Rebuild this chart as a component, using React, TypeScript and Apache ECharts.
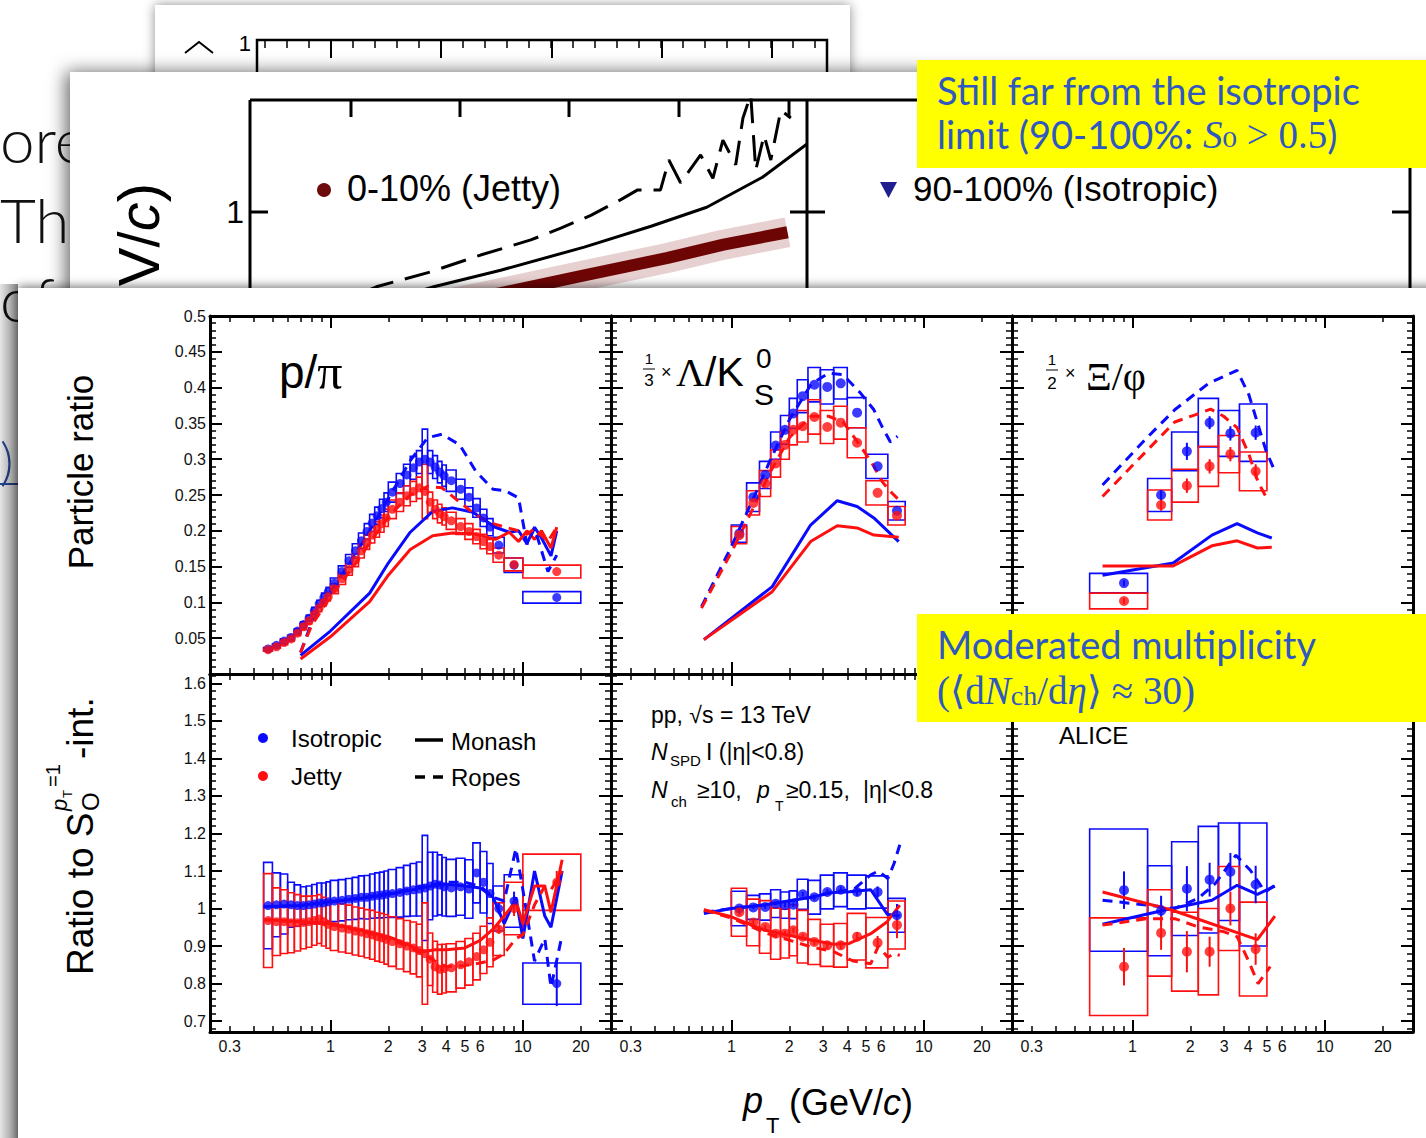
import React, { useEffect, useRef } from "react";
import * as echarts from "echarts";

// ---------------- axes / ticks ----------------
const PT_MIN = 0.237;
const PT_MAX = 28.7;
const X_LABEL_VALUES = [0.3, 1, 2, 3, 4, 5, 6, 10, 20];
const X_LABEL_TEXTS = ["0.3", "1", "2", "3", "4", "5", "6", "10", "20"];
const X_MAJOR_TICKS = [1, 10];
const X_MINOR_TICKS = [0.3, 0.4, 0.5, 0.6, 0.7, 0.8, 0.9, 2, 3, 4, 5, 6, 7, 8, 9, 20];
const TOP_Y_LABELS = [0.05, 0.1, 0.15, 0.2, 0.25, 0.3, 0.35, 0.4, 0.45, 0.5];
const BOT_Y_LABELS = [0.7, 0.8, 0.9, 1, 1.1, 1.2, 1.3, 1.4, 1.5, 1.6];
const TOP_Y_RANGE = [0, 0.5];
const BOT_Y_RANGE = [0.671, 1.625];

// ---------------- p/pi ----------------
const PPI_LO = [0.45, 0.5, 0.55, 0.6, 0.65, 0.7, 0.75, 0.8, 0.85, 0.9, 0.95, 1.0, 1.1, 1.2, 1.3, 1.4, 1.5, 1.6, 1.7, 1.8, 1.9, 2.0, 2.2, 2.4, 2.6, 2.8, 3.0, 3.2, 3.4, 3.6, 3.8, 4.0, 4.5, 5.0, 5.5, 6.0, 6.5, 7.0, 8.0, 10.0];
const PPI_HI = [0.5, 0.55, 0.6, 0.65, 0.7, 0.75, 0.8, 0.85, 0.9, 0.95, 1.0, 1.1, 1.2, 1.3, 1.4, 1.5, 1.6, 1.7, 1.8, 1.9, 2.0, 2.2, 2.4, 2.6, 2.8, 3.0, 3.2, 3.4, 3.6, 3.8, 4.0, 4.5, 5.0, 5.5, 6.0, 6.5, 7.0, 8.0, 10.0, 20.0];
const PPI_PT = [0.475, 0.525, 0.575, 0.625, 0.675, 0.725, 0.775, 0.825, 0.875, 0.925, 0.975, 1.05, 1.15, 1.25, 1.35, 1.45, 1.55, 1.65, 1.75, 1.85, 1.95, 2.1, 2.3, 2.5, 2.7, 2.9, 3.1, 3.3, 3.5, 3.7, 3.9, 4.25, 4.75, 5.25, 5.75, 6.25, 6.75, 7.5, 9.0, 15.0];
const PPI_ISO = [0.035, 0.040, 0.046, 0.051, 0.060, 0.069, 0.078, 0.088, 0.098, 0.107, 0.115, 0.127, 0.143, 0.158, 0.172, 0.186, 0.199, 0.211, 0.221, 0.231, 0.240, 0.254, 0.266, 0.278, 0.288, 0.296, 0.300, 0.296, 0.289, 0.282, 0.277, 0.270, 0.258, 0.247, 0.232, 0.218, 0.205, 0.180, 0.152, 0.107];
const PPI_JET = [0.034, 0.038, 0.044, 0.049, 0.057, 0.066, 0.074, 0.083, 0.092, 0.100, 0.108, 0.119, 0.133, 0.146, 0.159, 0.172, 0.184, 0.194, 0.202, 0.210, 0.218, 0.230, 0.240, 0.249, 0.255, 0.260, 0.255, 0.240, 0.230, 0.224, 0.220, 0.214, 0.206, 0.199, 0.192, 0.185, 0.178, 0.166, 0.153, 0.143];
const PPI_ISO_SYS = [0.002, 0.002, 0.003, 0.003, 0.003, 0.004, 0.004, 0.005, 0.005, 0.006, 0.006, 0.007, 0.008, 0.009, 0.010, 0.011, 0.011, 0.012, 0.012, 0.013, 0.013, 0.014, 0.014, 0.015, 0.016, 0.016, 0.042, 0.016, 0.016, 0.015, 0.015, 0.015, 0.014, 0.013, 0.013, 0.012, 0.012, 0.011, 0.010, 0.008];
const PPI_JET_SYS = [0.002, 0.002, 0.003, 0.003, 0.003, 0.004, 0.004, 0.005, 0.005, 0.005, 0.006, 0.007, 0.008, 0.008, 0.009, 0.010, 0.010, 0.011, 0.011, 0.012, 0.012, 0.013, 0.013, 0.014, 0.014, 0.015, 0.038, 0.014, 0.013, 0.013, 0.012, 0.012, 0.011, 0.011, 0.010, 0.010, 0.010, 0.010, 0.009, 0.009];
const PPI_ISO_R = [1.008, 1.010, 1.012, 1.010, 1.008, 1.008, 1.010, 1.012, 1.015, 1.015, 1.018, 1.020, 1.022, 1.025, 1.027, 1.030, 1.030, 1.033, 1.035, 1.036, 1.038, 1.040, 1.043, 1.047, 1.050, 1.052, 1.055, 1.060, 1.065, 1.063, 1.058, 1.055, 1.058, 1.052, 1.095, 1.070, 1.040, 1.000, 1.020, 0.800];
const PPI_ISO_R_SYS = [0.115, 0.085, 0.080, 0.060, 0.055, 0.050, 0.050, 0.052, 0.053, 0.053, 0.053, 0.055, 0.055, 0.055, 0.056, 0.057, 0.058, 0.059, 0.060, 0.061, 0.062, 0.064, 0.066, 0.068, 0.070, 0.072, 0.140, 0.090, 0.085, 0.080, 0.078, 0.076, 0.076, 0.078, 0.080, 0.082, 0.080, 0.060, 0.070, 0.055];
const PPI_ISO_R_STAT = [0, 0, 0, 0, 0, 0, 0, 0, 0, 0, 0, 0, 0, 0, 0, 0, 0, 0, 0, 0, 0, 0, 0, 0, 0, 0, 0, 0, 0, 0, 0, 0, 0, 0, 0, 0, 0, 0.015, 0.025, 0.060];
const PPI_JET_R = [0.968, 0.965, 0.965, 0.962, 0.962, 0.963, 0.965, 0.968, 0.972, 0.965, 0.958, 0.952, 0.948, 0.945, 0.940, 0.937, 0.933, 0.930, 0.925, 0.922, 0.918, 0.912, 0.906, 0.900, 0.895, 0.888, 0.880, 0.865, 0.845, 0.838, 0.840, 0.842, 0.850, 0.858, 0.872, 0.890, 0.910, 0.945, 1.000, 1.070];
const PPI_JET_R_SYS = [0.125, 0.090, 0.085, 0.080, 0.075, 0.070, 0.068, 0.066, 0.065, 0.065, 0.064, 0.064, 0.064, 0.064, 0.064, 0.064, 0.064, 0.065, 0.065, 0.065, 0.066, 0.066, 0.067, 0.068, 0.069, 0.070, 0.135, 0.070, 0.068, 0.066, 0.065, 0.064, 0.062, 0.062, 0.062, 0.063, 0.065, 0.070, 0.070, 0.075];
const PPI_JET_R_STAT = [0, 0, 0, 0, 0, 0, 0, 0, 0, 0, 0, 0, 0, 0, 0, 0, 0, 0, 0, 0, 0, 0, 0, 0, 0, 0, 0, 0, 0, 0, 0, 0, 0, 0, 0, 0, 0, 0.012, 0.020, 0.030];
const PPI_MONASH_PT = [0.7, 1.0, 1.6, 2.0, 2.6, 3.4, 4.3, 5.5, 7.2, 8.5, 9.5, 10.5, 11.5, 12.5, 14, 15];
const PPI_MONASH_ISO = [0.026, 0.060, 0.113, 0.155, 0.198, 0.227, 0.232, 0.226, 0.205, 0.198, 0.200, 0.182, 0.205, 0.190, 0.165, 0.200];
const PPI_MONASH_JET = [0.021, 0.052, 0.101, 0.138, 0.174, 0.193, 0.197, 0.196, 0.188, 0.198, 0.185, 0.200, 0.188, 0.200, 0.176, 0.205];
const PPI_ROPES_PT = [0.7, 0.8, 1.0, 1.3, 1.6, 2.0, 2.6, 3.2, 3.8, 4.7, 5.7, 7.0, 8.1, 9.5, 10.5, 11.5, 13.5, 15];
const PPI_ROPES_ISO = [0.030, 0.072, 0.115, 0.160, 0.200, 0.245, 0.298, 0.330, 0.335, 0.320, 0.283, 0.258, 0.256, 0.246, 0.181, 0.204, 0.143, 0.166];
const PPI_ROPES_JET = [0.030, 0.068, 0.108, 0.148, 0.183, 0.220, 0.250, 0.262, 0.260, 0.240, 0.222, 0.210, 0.205, 0.200, 0.195, 0.203, 0.185, 0.205];
const PPI_R_PT = [0.45, 0.7, 1.0, 1.5, 2.0, 2.5, 3.0, 3.5, 4.0, 5.0, 6.0, 7.0, 8.0, 9.2, 10, 11.5, 13, 14, 16];
const PPI_RM_ISO = [1.005, 1.008, 1.018, 1.028, 1.038, 1.047, 1.055, 1.062, 1.065, 1.060, 1.055, 1.030, 0.960, 1.030, 0.920, 1.100, 0.980, 0.950, 1.100];
const PPI_RR_ISO = [1.005, 1.008, 1.018, 1.030, 1.040, 1.050, 1.060, 1.065, 1.070, 1.070, 1.060, 1.030, 1.020, 1.160, 1.050, 0.860, 0.920, 0.790, 0.930];
const PPI_RM_JET = [0.970, 0.965, 0.960, 0.940, 0.925, 0.905, 0.885, 0.890, 0.890, 0.895, 0.915, 0.945, 0.980, 1.020, 0.960, 1.060, 1.060, 0.990, 1.130];
const PPI_RR_JET = [0.970, 0.965, 0.958, 0.938, 0.920, 0.900, 0.880, 0.860, 0.845, 0.848, 0.855, 0.862, 0.880, 0.920, 0.930, 1.010, 1.060, 1.050, 1.100];

// ---------------- Lambda/K0S (x 1/3) ----------------
const LK_LO = [1.0, 1.2, 1.4, 1.6, 1.8, 2.0, 2.2, 2.5, 2.9, 3.4, 4.0, 5.0, 6.5];
const LK_HI = [1.2, 1.4, 1.6, 1.8, 2.0, 2.2, 2.5, 2.9, 3.4, 4.0, 5.0, 6.5, 8.0];
const LK_PT = [1.1, 1.3, 1.5, 1.7, 1.9, 2.1, 2.35, 2.7, 3.15, 3.7, 4.5, 5.75, 7.25];
const LK_ISO = [0.196, 0.247, 0.278, 0.319, 0.341, 0.364, 0.388, 0.404, 0.401, 0.406, 0.365, 0.290, 0.228];
const LK_JET = [0.194, 0.239, 0.266, 0.294, 0.320, 0.341, 0.346, 0.359, 0.345, 0.351, 0.323, 0.253, 0.221];
const LK_ISO_SYS = [0.012, 0.020, 0.019, 0.019, 0.020, 0.021, 0.023, 0.024, 0.024, 0.022, 0.021, 0.017, 0.013];
const LK_JET_SYS = [0.012, 0.017, 0.018, 0.019, 0.020, 0.021, 0.022, 0.024, 0.023, 0.023, 0.021, 0.017, 0.013];
const LK_ISO_R = [1.000, 1.003, 1.004, 1.013, 1.009, 1.010, 1.038, 1.030, 1.044, 1.050, 1.044, 1.044, 0.982];
const LK_JET_R = [0.990, 0.963, 0.951, 0.933, 0.933, 0.942, 0.925, 0.911, 0.902, 0.902, 0.925, 0.909, 0.956];
const LK_ISO_R_SYS = [0.046, 0.032, 0.035, 0.037, 0.035, 0.037, 0.040, 0.045, 0.045, 0.045, 0.045, 0.043, 0.045];
const LK_JET_R_SYS = [0.064, 0.062, 0.070, 0.068, 0.065, 0.068, 0.070, 0.060, 0.056, 0.058, 0.062, 0.067, 0.064];
const LK_ISO_R_STAT = [0.006, 0.005, 0.005, 0.005, 0.006, 0.006, 0.006, 0.007, 0.008, 0.009, 0.010, 0.015, 0.030];
const LK_JET_R_STAT = [0.008, 0.006, 0.006, 0.006, 0.007, 0.007, 0.007, 0.008, 0.009, 0.010, 0.012, 0.018, 0.035];
const LK_ROPES_PT = [0.7, 1.0, 1.3, 1.6, 2.0, 2.6, 3.2, 3.8, 4.7, 5.5, 6.1, 6.7, 7.3];
const LK_ROPES_ISO = [0.094, 0.178, 0.245, 0.300, 0.355, 0.405, 0.420, 0.418, 0.392, 0.369, 0.344, 0.324, 0.332];
const LK_ROPES_JET = [0.092, 0.170, 0.232, 0.283, 0.330, 0.360, 0.360, 0.352, 0.318, 0.290, 0.268, 0.255, 0.245];
const LK_MONASH_PT = [0.72, 1.63, 2.58, 3.55, 4.5, 5.5, 7.4];
const LK_MONASH_ISO = [0.048, 0.122, 0.208, 0.242, 0.234, 0.218, 0.185];
const LK_MONASH_JET = [0.048, 0.115, 0.185, 0.207, 0.204, 0.194, 0.191];
const LK_RM_PT = [0.72, 1.0, 1.5, 2.6, 3.4, 4.1, 5.3, 6.45, 7.5];
const LK_RM_ISO = [0.987, 1.000, 1.010, 1.030, 1.043, 1.045, 1.050, 0.985, 0.980];
const LK_RM_JET = [0.997, 0.978, 0.942, 0.916, 0.905, 0.907, 0.933, 0.965, 1.009];
const LK_RR_PT = [0.72, 1.0, 1.5, 2.6, 3.4, 4.3, 5.3, 5.8, 6.5, 7.0, 7.5];
const LK_RR_ISO = [0.990, 1.000, 1.010, 1.030, 1.045, 1.050, 1.090, 1.100, 1.080, 1.120, 1.170];
const LK_RR_JET = [0.996, 0.975, 0.935, 0.898, 0.885, 0.860, 0.853, 0.900, 0.870, 0.880, 0.875];

// ---------------- Xi/phi (x 1/2) ----------------
const XP_LO = [0.6, 1.2, 1.6, 2.2, 2.8, 3.6];
const XP_HI = [1.2, 1.6, 2.2, 2.8, 3.6, 5.0];
const XP_PT = [0.905, 1.41, 1.92, 2.52, 3.23, 4.37];
const XP_ISO = [0.127, 0.250, 0.311, 0.351, 0.336, 0.337];
const XP_JET = [0.102, 0.236, 0.263, 0.290, 0.307, 0.283];
const XP_ISO_SYS = [0.0135, 0.023, 0.027, 0.034, 0.032, 0.040];
const XP_JET_SYS = [0.011, 0.021, 0.023, 0.028, 0.026, 0.027];
const XP_ISO_STAT = [0.004, 0.007, 0.012, 0.009, 0.010, 0.010];
const XP_JET_STAT = [0.004, 0.008, 0.010, 0.010, 0.010, 0.010];
const XP_ISO_R = [1.049, 0.994, 1.053, 1.077, 1.098, 1.064];
const XP_JET_R = [0.845, 0.935, 0.885, 0.885, 1.000, 0.892];
const XP_ISO_R_SYS = [0.163, 0.120, 0.125, 0.142, 0.130, 0.164];
const XP_JET_R_SYS = [0.130, 0.115, 0.105, 0.115, 0.112, 0.125];
const XP_ISO_R_STAT = [0.050, 0.040, 0.060, 0.045, 0.050, 0.050];
const XP_JET_R_STAT = [0.050, 0.045, 0.055, 0.040, 0.045, 0.042];
const XP_ROPES_ISO_PT = [0.70, 1.2, 1.66, 2.49, 3.5, 4.03, 4.93, 5.46];
const XP_ROPES_ISO = [0.264, 0.331, 0.369, 0.406, 0.424, 0.390, 0.313, 0.285];
const XP_ROPES_JET_PT = [0.70, 1.2, 1.66, 2.12, 2.55, 2.98, 3.5, 4.03, 4.5, 5.0];
const XP_ROPES_JET = [0.248, 0.313, 0.352, 0.362, 0.370, 0.360, 0.344, 0.307, 0.268, 0.245];
const XP_MONASH_PT = [0.70, 1.63, 2.59, 3.5, 4.46, 5.3];
const XP_MONASH_ISO = [0.138, 0.155, 0.194, 0.210, 0.197, 0.190];
const XP_MONASH_JET = [0.151, 0.151, 0.179, 0.186, 0.176, 0.177];
const XP_RM_JET_PT = [0.7, 1.6, 4.46, 5.5];
const XP_RM_JET = [1.044, 0.996, 0.917, 0.980];
const XP_RM_ISO_PT = [0.7, 1.6, 2.59, 3.5, 4.46, 5.5];
const XP_RM_ISO = [0.958, 1.000, 1.022, 1.062, 1.038, 1.060];
const XP_RR_ISO_PT = [0.7, 1.2, 1.66, 2.2, 2.7, 3.45, 4.1, 4.9, 5.5];
const XP_RR_ISO = [1.022, 1.009, 1.000, 1.027, 1.067, 1.142, 1.102, 1.044, 1.062];
const XP_RR_JET_PT = [0.7, 1.2, 1.66, 2.2, 3.0, 3.5, 4.0, 4.5, 5.2];
const XP_RR_JET = [0.956, 0.973, 0.973, 0.951, 0.938, 0.925, 0.862, 0.800, 0.845];

// ---------------- background slide (card behind) ----------------
const CARD_SOLID_X = [2.5, 3.3, 4.5, 6.0, 7.2, 8.2, 9.2, 10.0];
const CARD_SOLID_Y = [0.34, 0.40, 0.49, 0.65, 0.84, 1.06, 1.53, 2.3];
const CARD_DASH_X = [1.5, 2.27, 3.24, 4.14, 5.04, 5.58, 6.12, 6.65, 6.96, 7.37, 7.52, 7.73, 8.09, 8.31, 8.49, 8.72, 8.85, 8.99, 9.08, 9.23, 9.35, 9.53, 9.71];
const CARD_DASH_Y = [0.32, 0.40, 0.48, 0.59, 0.71, 0.82, 0.96, 1.16, 1.31, 1.31, 1.89, 1.43, 2.01, 1.51, 2.41, 1.78, 3.16, 4.2, 1.67, 2.56, 1.89, 3.48, 3.16];
const CARD_BAND_X = [2.0, 3.0, 4.5, 6.0, 7.5, 8.5, 9.65];
const CARD_BAND_Y = [0.26, 0.30, 0.37, 0.46, 0.57, 0.67, 0.78];

// ---------------- styling ----------------
const BLUE = "#0a0aff";
const RED = "#ff1010";
const SANS = '"Liberation Sans", Arial, Helvetica, sans-serif';
const SERIF = '"Liberation Serif", "DejaVu Serif", serif';
const SLIDE = 'Lato, "Open Sans", sans-serif';
const YTEXT = "#2f58c0";

const L = (v: number) => Math.log10(v);
const XMIN = L(PT_MIN);
const XMAX = L(PT_MAX);
const COL_LEFT = [210, 611, 1012];
const COL_W = 401;
const ROW_TOP = [316, 674];
const ROW_H = 358;

function steps(a: number, b: number, s: number) {
  const out: number[] = [];
  for (let v = a; v <= b + 1e-9; v += s) out.push(+v.toFixed(4));
  return out;
}
const TOP_MINOR = steps(0.01, 0.49, 0.01).filter((v) => Math.abs(v / 0.05 - Math.round(v / 0.05)) > 1e-6);
const BOT_MINOR = steps(0.68, 1.62, 0.02).filter((v) => Math.abs(v * 10 - Math.round(v * 10)) > 1e-6);

function fmtX(v: number) {
  for (let i = 0; i < X_LABEL_VALUES.length; i++) {
    if (Math.abs(L(X_LABEL_VALUES[i]) - v) < 1e-3) return X_LABEL_TEXTS[i];
  }
  return "";
}
function fmtY(v: number) {
  return String(Math.round(v * 100) / 100);
}

function buildAxes() {
  const xAxis: any[] = [];
  const yAxis: any[] = [];
  const line = { show: true, onZero: false, lineStyle: { color: "#000", width: 3 } };
  const noLine = { show: false, onZero: false };
  const tick = (vals: number[], len: number, w: number) => ({
    show: true, inside: true, length: len, customValues: vals, lineStyle: { color: "#000", width: w },
  });
  for (let g = 0; g < 6; g++) {
    const r = Math.floor(g / 3);
    const c = g % 3;
    const common = { type: "value", gridIndex: g, splitLine: { show: false }, z: 13, silent: true };
    const xc = { ...common, min: XMIN, max: XMAX };
    xAxis.push({
      ...xc, position: "bottom", axisLine: line, axisTick: tick(X_MAJOR_TICKS.map(L), 12, 2),
      axisLabel: r === 1
        ? { show: true, customValues: X_LABEL_VALUES.map(L), formatter: fmtX, fontSize: 16, fontFamily: SANS, color: "#111", margin: 6 }
        : { show: false },
    });
    xAxis.push({ ...xc, position: "bottom", axisLine: noLine, axisTick: tick(X_MINOR_TICKS.map(L), 6, 1.5), axisLabel: { show: false } });
    xAxis.push({ ...xc, position: "top", axisLine: line, axisTick: tick(X_MAJOR_TICKS.map(L), 12, 2), axisLabel: { show: false } });
    xAxis.push({ ...xc, position: "top", axisLine: noLine, axisTick: tick(X_MINOR_TICKS.map(L), 6, 1.5), axisLabel: { show: false } });
    const range = r === 0 ? TOP_Y_RANGE : BOT_Y_RANGE;
    const major = r === 0 ? TOP_Y_LABELS : BOT_Y_LABELS;
    const minor = r === 0 ? TOP_MINOR : BOT_MINOR;
    const yc = { ...common, min: range[0], max: range[1] };
    yAxis.push({
      ...yc, position: "left", axisLine: line, axisTick: tick(major, 12, 2),
      axisLabel: c === 0
        ? { show: true, customValues: major, formatter: fmtY, fontSize: 16, fontFamily: SANS, color: "#111", margin: 4 }
        : { show: false },
    });
    yAxis.push({ ...yc, position: "left", axisLine: noLine, axisTick: tick(minor, 6, 1.5), axisLabel: { show: false } });
    yAxis.push({ ...yc, position: "right", axisLine: line, axisTick: tick(major, 12, 2), axisLabel: { show: false } });
    yAxis.push({ ...yc, position: "right", axisLine: noLine, axisTick: tick(minor, 6, 1.5), axisLabel: { show: false } });
  }
  // background card plot axes (hidden)
  xAxis.push({ type: "value", gridIndex: 6, min: 0, max: 10, show: false });
  yAxis.push({ type: "log", gridIndex: 6, min: 0.1, max: 3.94, show: false });
  return { xAxis, yAxis };
}

function boxSeries(g: number, lo: number[], hi: number[], v: number[], s: number[], color: string) {
  return {
    type: "custom", xAxisIndex: g * 4, yAxisIndex: g * 4, z: 10, silent: true,
    data: lo.map((l, i) => [L(l), L(hi[i]), v[i], s[i]]),
    encode: { x: [0, 1], y: 2 },
    renderItem: (params: any, api: any) => {
      const a = api.coord([api.value(0), api.value(2) + api.value(3)]);
      const b = api.coord([api.value(1), api.value(2) - api.value(3)]);
      return {
        type: "rect",
        shape: { x: a[0], y: a[1], width: b[0] - a[0], height: b[1] - a[1] },
        style: { fill: "none", stroke: color, lineWidth: 1.6 },
      };
    },
  };
}

function statSeries(g: number, pt: number[], v: number[], e: number[], color: string) {
  return {
    type: "custom", xAxisIndex: g * 4, yAxisIndex: g * 4, z: 11, silent: true,
    data: pt.map((p, i) => [L(p), v[i], e[i]]).filter((d) => d[2] > 0),
    encode: { x: 0, y: 1 },
    renderItem: (params: any, api: any) => {
      const a = api.coord([api.value(0), api.value(1) + api.value(2)]);
      const b = api.coord([api.value(0), api.value(1) - api.value(2)]);
      return { type: "line", shape: { x1: a[0], y1: a[1], x2: b[0], y2: b[1] }, style: { stroke: color, lineWidth: 2 } };
    },
  };
}

function lineSeries(g: number, pt: number[], v: number[], color: string, dashed: boolean) {
  return {
    type: "line", xAxisIndex: g * 4, yAxisIndex: g * 4, z: 11, silent: true,
    data: pt.map((p, i) => [L(p), v[i]]),
    showSymbol: false, symbol: "none", clip: true,
    lineStyle: { color, width: 3, type: dashed ? [10, 7] : "solid" },
  };
}

function pointSeries(g: number, pt: number[], v: number[], color: string, size: number) {
  return {
    type: "scatter", xAxisIndex: g * 4, yAxisIndex: g * 4, z: 12, silent: true,
    symbol: "circle", symbolSize: size, itemStyle: { color },
    data: pt.map((p, i) => [L(p), v[i]]),
  };
}

function refSeries(g: number, dashType: number[]) {
  return {
    type: "scatter", xAxisIndex: g * 4, yAxisIndex: g * 4, z: 9, silent: true, data: [],
    markLine: {
      silent: true, symbol: "none", label: { show: false }, animation: false,
      lineStyle: { color: "#000", width: 3, type: dashType },
      data: [{ yAxis: 1 }],
    },
  };
}

function panel(g: number, d: any) {
  const out: any[] = [];
  if (d.ref) out.push(refSeries(g, d.ref));
  out.push(boxSeries(g, d.lo, d.hi, d.iso, d.isoSys, BLUE));
  out.push(boxSeries(g, d.lo, d.hi, d.jet, d.jetSys, RED));
  d.lines.forEach((ln: any) => out.push(lineSeries(g, ln[0], ln[1], ln[2], ln[3])));
  if (d.isoStat) out.push(statSeries(g, d.pt, d.iso, d.isoStat, BLUE));
  if (d.jetStat) out.push(statSeries(g, d.pt, d.jet, d.jetStat, RED));
  out.push(pointSeries(g, d.pt, d.iso, BLUE, d.size));
  out.push(pointSeries(g, d.pt, d.jet, RED, d.size));
  return out;
}

function buildSeries() {
  const s: any[] = [];
  s.push(...panel(0, {
    lo: PPI_LO, hi: PPI_HI, pt: PPI_PT, iso: PPI_ISO, jet: PPI_JET, isoSys: PPI_ISO_SYS, jetSys: PPI_JET_SYS, size: 9,
    lines: [[PPI_MONASH_PT, PPI_MONASH_ISO, BLUE, false], [PPI_MONASH_PT, PPI_MONASH_JET, RED, false], [PPI_ROPES_PT, PPI_ROPES_ISO, BLUE, true], [PPI_ROPES_PT, PPI_ROPES_JET, RED, true]],
  }));
  s.push(...panel(1, {
    lo: LK_LO, hi: LK_HI, pt: LK_PT, iso: LK_ISO, jet: LK_JET, isoSys: LK_ISO_SYS, jetSys: LK_JET_SYS, size: 10,
    lines: [[LK_MONASH_PT, LK_MONASH_ISO, BLUE, false], [LK_MONASH_PT, LK_MONASH_JET, RED, false], [LK_ROPES_PT, LK_ROPES_ISO, BLUE, true], [LK_ROPES_PT, LK_ROPES_JET, RED, true]],
  }));
  s.push(...panel(2, {
    lo: XP_LO, hi: XP_HI, pt: XP_PT, iso: XP_ISO, jet: XP_JET, isoSys: XP_ISO_SYS, jetSys: XP_JET_SYS, isoStat: XP_ISO_STAT, jetStat: XP_JET_STAT, size: 10,
    lines: [[XP_MONASH_PT, XP_MONASH_ISO, BLUE, false], [XP_MONASH_PT, XP_MONASH_JET, RED, false], [XP_ROPES_ISO_PT, XP_ROPES_ISO, BLUE, true], [XP_ROPES_JET_PT, XP_ROPES_JET, RED, true]],
  }));
  s.push(...panel(3, {
    ref: [10, 6], lo: PPI_LO, hi: PPI_HI, pt: PPI_PT, iso: PPI_ISO_R, jet: PPI_JET_R, isoSys: PPI_ISO_R_SYS, jetSys: PPI_JET_R_SYS, isoStat: PPI_ISO_R_STAT, jetStat: PPI_JET_R_STAT, size: 9,
    lines: [[PPI_R_PT, PPI_RM_ISO, BLUE, false], [PPI_R_PT, PPI_RR_ISO, BLUE, true], [PPI_R_PT, PPI_RM_JET, RED, false], [PPI_R_PT, PPI_RR_JET, RED, true]],
  }));
  s.push(...panel(4, {
    ref: [10, 6], lo: LK_LO, hi: LK_HI, pt: LK_PT, iso: LK_ISO_R, jet: LK_JET_R, isoSys: LK_ISO_R_SYS, jetSys: LK_JET_R_SYS, isoStat: LK_ISO_R_STAT, jetStat: LK_JET_R_STAT, size: 10,
    lines: [[LK_RM_PT, LK_RM_ISO, BLUE, false], [LK_RR_PT, LK_RR_ISO, BLUE, true], [LK_RM_PT, LK_RM_JET, RED, false], [LK_RR_PT, LK_RR_JET, RED, true]],
  }));
  s.push(...panel(5, {
    ref: [14, 5, 3, 5, 3, 5], lo: XP_LO, hi: XP_HI, pt: XP_PT, iso: XP_ISO_R, jet: XP_JET_R, isoSys: XP_ISO_R_SYS, jetSys: XP_JET_R_SYS, isoStat: XP_ISO_R_STAT, jetStat: XP_JET_R_STAT, size: 10,
    lines: [[XP_RM_ISO_PT, XP_RM_ISO, BLUE, false], [XP_RR_ISO_PT, XP_RR_ISO, BLUE, true], [XP_RM_JET_PT, XP_RM_JET, RED, false], [XP_RR_JET_PT, XP_RR_JET, RED, true]],
  }));
  // background slide plot (partially covered)
  const bg = (x: number[], y: number[], style: any) => ({
    type: "line", xAxisIndex: 24, yAxisIndex: 24, z: 5, silent: true, showSymbol: false, symbol: "none", clip: true,
    data: x.map((v, i) => [v, y[i]]), lineStyle: style,
  });
  s.push(bg(CARD_BAND_X, CARD_BAND_Y, { color: "rgba(185,120,120,0.35)", width: 30 }));
  s.push(bg(CARD_BAND_X, CARD_BAND_Y, { color: "#6e0505", width: 12 }));
  s.push(bg(CARD_SOLID_X, CARD_SOLID_Y, { color: "#000", width: 3 }));
  s.push(bg(CARD_DASH_X, CARD_DASH_Y, { color: "#000", width: 3, type: [26, 12] }));
  return s;
}

function T(x: number, y: number, text: string, font: string, o: any = {}) {
  return {
    type: "text", x, y, z: o.z ?? 14, rotation: o.rotation ?? 0, silent: true,
    style: {
      text, font, fill: o.fill ?? "#000",
      textAlign: o.align ?? "left", textVerticalAlign: o.va ?? "middle",
      align: o.align ?? "left", verticalAlign: o.va ?? "middle",
      rich: o.rich,
    },
  };
}
function LN(x1: number, y1: number, x2: number, y2: number, w: number, z: number, color = "#000", dash?: number[]) {
  return { type: "line", z, silent: true, shape: { x1, y1, x2, y2 }, style: { stroke: color, lineWidth: w, lineDash: dash } };
}

function buildGraphic() {
  const G: any[] = [];
  // slide text behind cards
  G.push(T(0, 139, "ore", `300 62px ${SLIDE}`, { z: 0, fill: "#111" }));
  G.push(T(0, 219, "The", `300 62px ${SLIDE}`, { z: 0, fill: "#111" }));
  G.push(T(0, 298, "of", `300 62px ${SLIDE}`, { z: 0, fill: "#111" }));
  G.push(T(0, 460, ")", `300 52px ${SLIDE}`, { z: 0, fill: "#2a4ea0" }));
  G.push(LN(0, 484, 18, 484, 2, 0, "#2a4ea0"));

  // card 1 (back)
  G.push({ type: "rect", z: 1, silent: true, shape: { x: 155, y: 5, width: 695, height: 160 }, style: { fill: "#fff", shadowBlur: 12, shadowColor: "rgba(0,0,0,0.45)" } });
  G.push({ type: "polyline", z: 2, silent: true, shape: { points: [[257, 80], [257, 40], [827, 40], [827, 80]] }, style: { stroke: "#000", lineWidth: 2.5, fill: null } });
  [331, 441, 552, 662, 772].forEach((x) => G.push(LN(x, 40, x, 58, 2, 2)));
  for (let x = 265; x < 827; x += 22) G.push(LN(x, 40, x, 48, 1.5, 2));
  G.push(T(251, 43, "1", `22px ${SANS}`, { z: 2, align: "right" }));
  G.push({ type: "polyline", z: 2, silent: true, shape: { points: [[185, 53], [199, 42], [213, 53]] }, style: { stroke: "#000", lineWidth: 2, fill: null } });

  // card 2
  G.push({ type: "rect", z: 3, silent: true, shape: { x: 70, y: 72, width: 1400, height: 420 }, style: { fill: "#fff", shadowBlur: 18, shadowOffsetX: -4, shadowColor: "rgba(0,0,0,0.6)" } });
  G.push(LN(250, 100, 1410, 100, 3, 4));
  G.push(LN(250, 100, 250, 400, 3, 4));
  G.push(LN(807, 100, 807, 400, 3, 4));
  G.push(LN(1410, 100, 1410, 400, 3, 4));
  [351, 460, 569, 679, 789].forEach((x) => G.push(LN(x, 100, x, 117, 3, 4)));
  G.push(LN(250, 212, 268, 212, 3, 4));
  G.push(LN(790, 212, 825, 212, 3, 4));
  G.push(LN(1392, 212, 1410, 212, 3, 4));
  G.push(T(244, 212, "1", `32px ${SANS}`, { z: 4, align: "right" }));
  G.push(T(138, 183, "{a|(GeV/}{b|c}{a|)}", `58px ${SANS}`, {
    z: 4, align: "right", rotation: Math.PI / 2,
    rich: { a: { fontSize: 58, fontFamily: SANS, fill: "#000" }, b: { fontSize: 58, fontFamily: SANS, fontStyle: "italic", fill: "#000" } },
  }));
  G.push({ type: "circle", z: 4, silent: true, shape: { cx: 324, cy: 190, r: 7 }, style: { fill: "#6b0b0b" } });
  G.push(T(347, 188, "0-10% (Jetty)", `36px ${SANS}`, { z: 4 }));
  G.push({ type: "polygon", z: 4, silent: true, shape: { points: [[880, 182], [897, 182], [888.5, 198]] }, style: { fill: "#1f1f8f" } });
  G.push(T(913, 188, "90-100% (Isotropic)", `35px ${SANS}`, { z: 4 }));

  // main card
  G.push({ type: "rect", z: 6, silent: true, shape: { x: 18, y: 288, width: 1420, height: 860 }, style: { fill: "#fff", shadowBlur: 10, shadowOffsetY: -2, shadowColor: "rgba(0,0,0,0.5)" } });
  G.push({
    type: "rect", z: 6, silent: true, shape: { x: 0, y: 284, width: 18, height: 860 },
    style: { fill: new echarts.graphic.LinearGradient(0, 0, 1, 0, [{ offset: 0, color: "rgba(0,0,0,0.10)" }, { offset: 1, color: "rgba(0,0,0,0.46)" }]) },
  });

  // panel titles
  G.push(T(279, 372, "{a|p/}{b|π}", `46px ${SANS}`, {
    rich: { a: { fontSize: 46, fontFamily: SANS, fill: "#000" }, b: { fontSize: 50, fontFamily: SERIF, fill: "#000" } },
  }));
  G.push(T(649, 358, "1", `15px ${SANS}`, { align: "center" }));
  G.push(LN(643, 369, 655, 369, 1, 14));
  G.push(T(649, 380, "3", `17px ${SANS}`, { align: "center" }));
  G.push(T(661, 372, "×", `18px ${SANS}`));
  G.push(T(676, 372, "{a|Λ}{b|/K}", `40px ${SANS}`, {
    rich: { a: { fontSize: 40, fontFamily: SERIF, fill: "#000" }, b: { fontSize: 41, fontFamily: SANS, fill: "#000" } },
  }));
  G.push(T(756, 358, "0", `28px ${SANS}`));
  G.push(T(754, 394, "S", `30px ${SANS}`));
  G.push(T(1052, 359, "1", `15px ${SANS}`, { align: "center" }));
  G.push(LN(1046, 370, 1058, 370, 1, 14));
  G.push(T(1052, 383, "2", `17px ${SANS}`, { align: "center" }));
  G.push(T(1065, 373, "×", `18px ${SANS}`));
  G.push(T(1086, 376, "Ξ/φ", `40px ${SERIF}`));

  // legend
  G.push({ type: "circle", z: 14, silent: true, shape: { cx: 263, cy: 738, r: 5 }, style: { fill: BLUE } });
  G.push(T(291, 738, "Isotropic", `24px ${SANS}`));
  G.push({ type: "circle", z: 14, silent: true, shape: { cx: 263, cy: 776, r: 5 }, style: { fill: RED } });
  G.push(T(291, 776, "Jetty", `24px ${SANS}`));
  G.push(LN(415, 740, 443, 740, 3.5, 14));
  G.push(T(451, 741, "Monash", `24px ${SANS}`));
  G.push(LN(415, 777, 443, 777, 3.5, 14, "#000", [10, 8]));
  G.push(T(451, 777, "Ropes", `24px ${SANS}`));

  // info text
  G.push(T(651, 715, "pp, √s = 13 TeV", `23px ${SANS}`));
  G.push(T(651, 752, "N", `italic 23px ${SANS}`));
  G.push(T(670, 760, "SPD", `15px ${SANS}`));
  G.push(T(706, 752, "I (|η|<0.8)", `23px ${SANS}`));
  G.push(T(651, 790, "N", `italic 23px ${SANS}`));
  G.push(T(671, 801, "ch", `15px ${SANS}`));
  G.push(T(697, 790, "≥10,", `23px ${SANS}`));
  G.push(T(757, 790, "p", `italic 23px ${SANS}`));
  G.push(T(775, 806, "T", `14px ${SANS}`));
  G.push(T(786, 790, "≥0.15,", `23px ${SANS}`));
  G.push(T(863, 790, "|η|<0.8", `23px ${SANS}`));
  G.push(T(1059, 735, "ALICE", `24px ${SANS}`));

  // axis titles
  G.push(T(80, 472, "Particle ratio", `35px ${SANS}`, { align: "center", rotation: Math.PI / 2 }));
  G.push({
    type: "group", x: 80, y: 975, rotation: Math.PI / 2, z: 14,
    children: [
      T(0, 0, "Ratio to S", `37px ${SANS}`),
      T(164, 10, "O", `24px ${SANS}`),
      T(164, -21, "p", `italic 22px ${SANS}`),
      T(177, -13, "T", `13px ${SANS}`),
      T(188, -27, "=1", `20px ${SANS}`),
      T(216, 0, "-int.", `37px ${SANS}`),
    ],
  });
  G.push(T(743, 1100, "p", `italic 36px ${SANS}`));
  G.push(T(766, 1125, "T", `22px ${SANS}`));
  G.push(T(789, 1102, "{a|(GeV/}{b|c}{a|)}", `36px ${SANS}`, {
    rich: { a: { fontSize: 36, fontFamily: SANS, fill: "#000" }, b: { fontSize: 36, fontFamily: SANS, fontStyle: "italic", fill: "#000" } },
  }));

  // yellow callouts
  G.push({ type: "rect", z: 20, silent: true, shape: { x: 917, y: 60, width: 520, height: 108 }, style: { fill: "#ffff00" } });
  G.push(T(937, 90, "Still far from the isotropic", `38px ${SLIDE}`, { z: 21, fill: YTEXT }));
  G.push(T(937, 134, "{t|limit (90-100%: }{s|S}{z|₀}{m| > 0.5}{t|)}", `38px ${SLIDE}`, {
    z: 21, fill: YTEXT,
    rich: {
      t: { fontSize: 38, fontFamily: SLIDE, fill: YTEXT },
      s: { fontSize: 39, fontFamily: SERIF, fontStyle: "italic", fill: YTEXT },
      z: { fontSize: 36, fontFamily: '"DejaVu Serif", serif', fill: YTEXT },
      m: { fontSize: 39, fontFamily: SERIF, fill: YTEXT },
    },
  }));
  G.push({ type: "rect", z: 20, silent: true, shape: { x: 917, y: 614, width: 520, height: 108 }, style: { fill: "#ffff00" } });
  G.push(T(937, 644, "Moderated multiplicity", `38px ${SLIDE}`, { z: 21, fill: YTEXT }));
  G.push(T(937, 690, "{p|(⟨d}{i|N}{c|ch}{p|/d}{i|η}{p|⟩ ≈ 30)}", `39px ${SERIF}`, {
    z: 21, fill: YTEXT,
    rich: {
      p: { fontSize: 39, fontFamily: SERIF, fill: YTEXT },
      i: { fontSize: 39, fontFamily: SERIF, fontStyle: "italic", fill: YTEXT },
      c: { fontSize: 28, fontFamily: SERIF, fill: YTEXT, verticalAlign: "bottom", padding: [10, 0, 0, 0] },
    },
  }));
  return G;
}

function buildOption() {
  const grid: any[] = [];
  for (let g = 0; g < 6; g++) {
    const r = Math.floor(g / 3);
    const c = g % 3;
    grid.push({ left: COL_LEFT[c], top: ROW_TOP[r], width: COL_W, height: ROW_H, containLabel: false });
  }
  grid.push({ left: 250, top: 100, width: 557, height: 300, containLabel: false });
  const { xAxis, yAxis } = buildAxes();
  return {
    animation: false,
    backgroundColor: "#ffffff",
    grid,
    xAxis,
    yAxis,
    series: buildSeries(),
    graphic: { elements: buildGraphic() },
  };
}

export default function App() {
  const ref = useRef<HTMLDivElement>(null);
  useEffect(() => {
    if (!ref.current) return;
    const chart = echarts.init(ref.current, null, { renderer: "svg" });
    chart.setOption(buildOption() as any);
    return () => chart.dispose();
  }, []);
  return <div ref={ref} style={{ position: "fixed", left: 0, top: 0, width: 1426, height: 1138 }} />;
}
